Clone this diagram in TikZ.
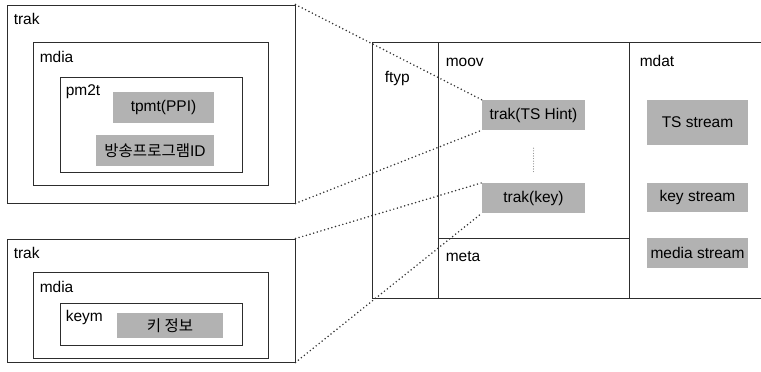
\documentclass[tikz,border=0pt]{standalone}
\usepackage{fontspec}
\setmainfont{Liberation Sans}
\newfontfamily\krfont{Noto Sans CJK KR}
\usetikzlibrary{positioning, calc}
\definecolor{boxline}{RGB}{45, 45, 45}
\definecolor{shade}{RGB}{178, 178, 178}
\definecolor{dotline}{RGB}{50, 50, 50}

\begin{document}
\begin{tikzpicture}[x=1pt, y=-1pt,
  box/.style={draw=boxline, line width=0.9pt, inner sep=0pt},
  shadebox/.style={fill=shade, inner sep=0pt, font=\fontsize{15.5}{18}\selectfont},
  lbl/.style={anchor=base west, inner sep=0pt, font=\fontsize{15.5}{18}\selectfont},
  link/.style={dotline, line width=1.7pt, line cap=round, dash pattern=on 0pt off 3.8pt}]
  \useasboundingbox (0,0) rectangle (761,372);

  % upper trak (TS Hint)
  \node[box, minimum width=288pt, minimum height=198pt] (trakA) at (151,104) {};
  \node[box, minimum width=235pt, minimum height=143pt] (mdiaA) at (150.5,113.5) {};
  \node[box, minimum width=182pt, minimum height=95pt] (pmt) at (151,124.5) {};
  \node[lbl] at ($(trakA.north west)+(7,20)$) {trak};
  \node[lbl] at ($(mdiaA.north west)+(7,21)$) {mdia};
  \node[lbl] at ($(pmt.north west)+(6,19)$) {pm2t};
  \node[shadebox, minimum width=101pt, minimum height=31pt] (tpmt) at (163.5,107.5) {tpmt(PPI)};
  \node[shadebox, minimum width=118pt, minimum height=31pt] (progid) at (155,150.5) {{\krfont 방송프로그램}ID};

  % lower trak (key)
  \node[box, minimum width=288pt, minimum height=123pt] (trakB) at (151,300.5) {};
  \node[box, minimum width=235pt, minimum height=86pt] (mdiaB) at (150.5,315) {};
  \node[box, minimum width=182pt, minimum height=42pt] (keym) at (151,324) {};
  \node[lbl] at ($(trakB.north west)+(7,20)$) {trak};
  \node[lbl] at ($(mdiaB.north west)+(7,21)$) {mdia};
  \node[lbl] at ($(keym.north west)+(6,19)$) {keym};
  \node[shadebox, minimum width=106pt, minimum height=25pt] (keyinfo) at (170,325.5) {\krfont 키 정보};

  % file layout
  \node[box, minimum width=66pt, minimum height=256pt] (ftyp) at (405,170) {};
  \node[box, minimum width=191pt, minimum height=196pt] (moov) at (533.5,140) {};
  \node[box, minimum width=191pt, minimum height=60pt] (meta) at (533.5,268) {};
  \node[box, minimum width=136pt, minimum height=256pt] (mdat) at (697,170) {};
  \node[lbl] at ($(ftyp.north west)+(13,41)$) {ftyp};
  \node[lbl] at ($(moov.north west)+(8,25)$) {moov};
  \node[lbl] at ($(meta.north west)+(8,24)$) {meta};
  \node[lbl] at ($(mdat.north west)+(11,25)$) {mdat};

  \node[shadebox, minimum width=103pt, minimum height=30pt] (tshint) at (533.5,115) {trak(TS Hint)};
  \node[shadebox, minimum width=103pt, minimum height=30pt] (trakkey) at (533.5,198) {trak(key)};
  \node[shadebox, minimum width=101pt, minimum height=45pt] (tsstream) at (697.5,122.5) {TS stream};
  \node[shadebox, minimum width=101pt, minimum height=29pt] (keystream) at (697.5,197.5) {key stream};
  \node[shadebox, minimum width=101pt, minimum height=30pt] (mediastream) at (697.5,253) {media stream};

  % dotted links
  \draw[link] (trakA.north east) -- (tshint.north west);
  \draw[link] (trakA.south east) -- (tshint.south west);
  \draw[link] (trakB.north east) -- (trakkey.north west);
  \draw[link] (trakB.south east) -- (trakkey.south west);
  \draw[link, gray, line width=1.1pt, dash pattern=on 0pt off 2.6pt, shorten <=18pt, shorten >=10pt] (tshint.south) -- (trakkey.north);
\end{tikzpicture}
\end{document}
